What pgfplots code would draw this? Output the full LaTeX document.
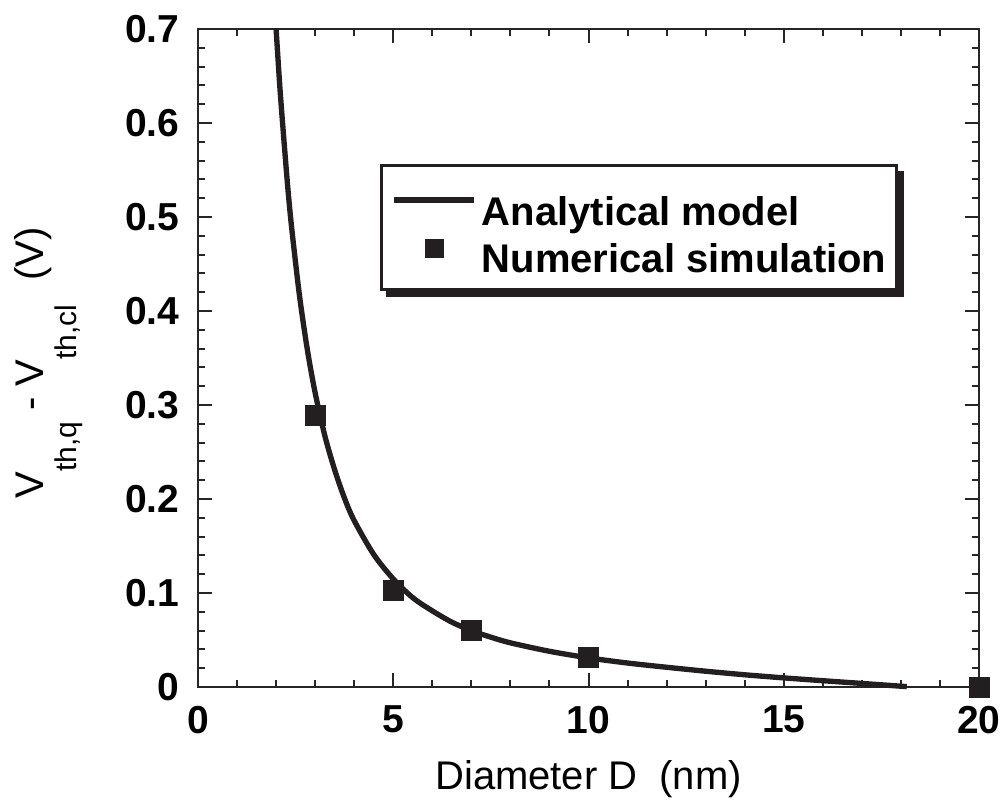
\documentclass[border=0pt]{standalone}
\usepackage{fontspec}
\setmainfont{Liberation Sans}
\usepackage{pgfplots}
\pgfplotsset{compat=1.18}
\pgfdeclarelayer{background}
\pgfsetlayers{background,main}
\definecolor{ink}{HTML}{231F20}
\pgfplotsset{
  lineleg/.style={legend image code/.code={\draw[##1] (0pt,1.2pt) -- (24pt,1.2pt);}},
  markleg/.style={legend image code/.code={\draw[##1, mark size=2.7pt] plot coordinates {(12pt,3.6pt)};}},
}
\begin{document}
\begin{tikzpicture}
\begin{axis}[
  scale only axis,
  width=234.3pt, height=197.4pt,
  xmin=0, xmax=20, ymin=0, ymax=0.7,
  xtick={0,5,10,15,20},
  ytick={0,0.1,0.2,0.3,0.4,0.5,0.6,0.7},
  minor x tick num=4,
  minor y tick num=4,
  tick align=inside,
  tick pos=both,
  major tick length=4.3pt,
  minor tick length=2.2pt,
  axis line style={line width=0.6pt, black!85},
  every tick/.style={line width=0.6pt, black!85},
  /pgf/number format/assume math mode=true,
  ticklabel style={font=\fontsize{11.7}{14}\selectfont\bfseries},
  xticklabel style={yshift=-2.1pt},
  yticklabel style={xshift=-2.1pt},
  xlabel={Diameter D\hspace{0.55em}(nm)},
  xlabel style={font=\fontsize{12}{14}\selectfont, at={(axis description cs:0.5,0)}, anchor=north, yshift=-18.5pt},
  ylabel={V\raisebox{-10pt}{\fontsize{9}{10}\selectfont th,q} - V\raisebox{-10pt}{\fontsize{9}{10}\selectfont th,cl}\hspace{0.6em}(V)},
  ylabel style={font=\fontsize{12}{14}\selectfont, at={(axis description cs:0,0.5)}, anchor=south, yshift=31pt, xshift=-1.5pt},
  clip=false,
  legend style={
    name=leg,
    at={(axis cs:4.66,0.556)}, anchor=north west,
    draw=ink, line width=0.9pt, fill=white,
    font=\fontsize{12}{14}\selectfont\bfseries,
    nodes={inner sep=0pt},
    inner xsep=3pt, inner ysep=3.6pt,
    column sep=1.5pt, row sep=2.8pt,
  },
  legend cell align=left,
]
\coordinate (sw) at (rel axis cs:0,0);
\addplot[ink, line width=1.6pt, smooth, no marks, lineleg]
  coordinates {
  (2.0,0.700) (2.1,0.636) (2.2,0.582) (2.3,0.531) (2.4,0.488) (2.6,0.416)
  (2.8,0.359) (3.0,0.313) (3.25,0.267) (3.5,0.231) (3.75,0.201) (4.0,0.177)
  (4.5,0.141) (5.0,0.115) (5.5,0.095) (6.0,0.081) (6.5,0.069) (7.0,0.060)
  (7.5,0.053) (8.0,0.047) (9.0,0.038) (10.0,0.031) (11.0,0.0255) (12.0,0.021)
  (13.0,0.0168) (14.0,0.013) (15.0,0.0097) (16.0,0.0067) (17.0,0.0038) (18.15,0.0004)
  };
\addlegendentry{\rule{0pt}{14.2pt}Analytical model}
\addplot[only marks, mark=square*, mark size=3pt, mark options={fill=ink, draw=ink, line width=0pt}, markleg]
  coordinates {(3,0.289) (5,0.103) (7,0.060) (10,0.031) (20,0.0)};
\addlegendentry{Numerical simulation}
\end{axis}
\begin{pgfonlayer}{background}
\fill[ink] ([shift={(1.9pt,-1.9pt)}]leg.south west) rectangle ([shift={(1.9pt,-1.9pt)}]leg.north east);
\end{pgfonlayer}
\pgfresetboundingbox
\path[use as bounding box] (sw) ++(-59.4pt,-34.8pt) rectangle ++(300pt,240.9pt);
\end{tikzpicture}
\end{document}
